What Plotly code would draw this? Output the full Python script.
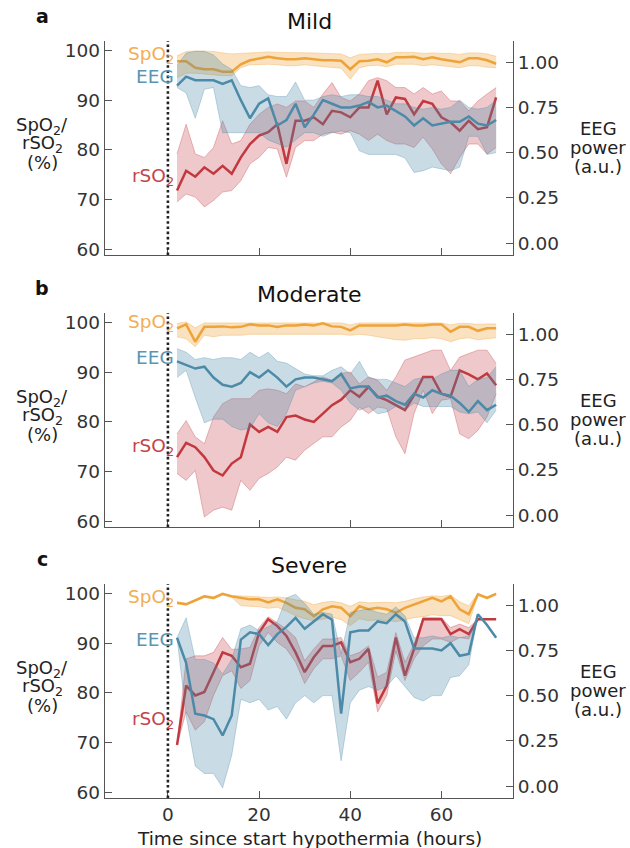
import plotly.graph_objects as go

# ---------------- data ----------------
hours = list(range(2, 73, 2))

# Panel a: Mild
spo2_a_mean = [97.9, 97.9, 96.6, 96.3, 96.3, 95.8, 95.8, 97.3, 98.1, 98.5, 98.8, 98.5, 98.3, 98.3, 98.5, 98.3, 98.1, 98.1,
               98.0, 96.3, 97.9, 98.0, 98.3, 97.7, 98.7, 98.7, 98.8, 98.3, 98.7, 98.3, 98.0, 97.7, 98.5, 98.5, 98.1, 97.4]
spo2_a_upper = [99.0, 99.9, 100.0, 100.0, 99.9, 99.6, 99.4, 99.5, 99.6, 99.8, 99.8, 99.7, 99.7, 99.6, 99.6, 99.6, 99.5, 99.5,
                99.4, 98.6, 99.3, 99.4, 99.5, 99.4, 99.7, 99.7, 99.7, 99.5, 99.6, 99.5, 99.5, 99.3, 99.6, 99.6, 99.4, 98.9]
spo2_a_lower = [94.6, 95.5, 95.5, 95.3, 95.2, 95.0, 95.0, 96.6, 97.2, 97.3, 97.3, 97.2, 97.0, 97.0, 97.2, 97.0, 96.8, 96.7,
                96.5, 94.3, 96.6, 97.0, 97.1, 96.8, 97.3, 97.3, 97.3, 97.0, 97.2, 97.0, 96.8, 96.6, 97.0, 97.0, 96.7, 96.6]
rso2_a_mean = [71.8, 75.8, 74.6, 76.5, 75.2, 76.8, 75.2, 78.5, 81.2, 82.9, 83.6, 85.2, 77.2, 85.9, 85.9, 86.6, 85.2, 87.9,
               87.6, 86.6, 88.6, 88.6, 94.0, 87.2, 90.6, 90.3, 87.2, 89.9, 89.3, 86.6, 85.6, 83.9, 85.9, 84.2, 84.6, 90.6]
rso2_a_upper = [79.2, 85.2, 79.2, 78.5, 80.5, 85.9, 81.2, 81.9, 85.2, 87.2, 88.6, 89.3, 88.6, 89.9, 89.9, 88.6, 91.3, 93.6,
                90.6, 89.9, 91.3, 94.0, 94.6, 94.0, 92.6, 92.6, 91.3, 92.6, 91.3, 91.9, 89.9, 89.9, 87.9, 89.9, 91.3, 92.6]
rso2_a_lower = [69.5, 71.1, 70.5, 68.5, 69.8, 71.5, 71.8, 73.8, 77.2, 78.5, 80.5, 80.2, 74.5, 80.5, 81.9, 81.9, 83.2, 83.6,
                83.2, 83.9, 83.2, 81.9, 83.2, 81.9, 81.2, 81.2, 80.5, 82.6, 80.2, 77.2, 75.2, 78.5, 81.2, 81.2, 79.2, 80.5]
eeg_a_mean = [0.87, 0.92, 0.90, 0.90, 0.90, 0.88, 0.90, 0.79, 0.69, 0.77, 0.80, 0.65, 0.68, 0.77, 0.64, 0.71, 0.79, 0.77,
              0.75, 0.75, 0.76, 0.78, 0.75, 0.76, 0.73, 0.70, 0.65, 0.69, 0.65, 0.66, 0.67, 0.67, 0.70, 0.66, 0.65, 0.68]
eeg_a_upper = [0.98, 1.05, 1.06, 1.06, 1.04, 0.99, 0.96, 0.87, 0.86, 0.87, 0.82, 0.81, 0.81, 0.89, 0.79, 0.79, 0.81, 0.82,
               0.81, 0.82, 0.82, 0.81, 0.81, 0.79, 0.77, 0.77, 0.75, 0.74, 0.75, 0.74, 0.75, 0.79, 0.75, 0.74, 0.75, 0.79]
eeg_a_lower = [0.86, 0.83, 0.69, 0.85, 0.86, 0.61, 0.61, 0.61, 0.61, 0.61, 0.57, 0.55, 0.53, 0.57, 0.61, 0.61, 0.59, 0.61,
               0.62, 0.61, 0.51, 0.49, 0.49, 0.49, 0.49, 0.47, 0.39, 0.40, 0.42, 0.41, 0.40, 0.42, 0.59, 0.59, 0.49, 0.50]

# Panel b: Moderate
spo2_b_mean = [98.9, 99.7, 96.2, 99.2, 99.2, 99.3, 99.1, 99.2, 99.7, 99.5, 99.5, 99.2, 99.5, 99.5, 99.7, 99.5, 99.9, 99.3,
               99.2, 98.5, 99.5, 99.5, 99.5, 99.5, 99.5, 99.7, 99.5, 99.5, 99.7, 99.7, 98.2, 99.2, 99.2, 98.4, 98.9, 98.9]
spo2_b_upper = [99.9, 100.2, 99.0, 100.0, 100.0, 100.0, 100.0, 100.0, 100.1, 100.0, 100.0, 100.0, 100.0, 100.0, 100.0,
                100.0, 100.1, 100.0, 100.0, 99.6, 100.0, 100.0, 100.0, 100.0, 100.0, 100.1, 100.0, 100.0, 100.0, 100.0,
                99.6, 99.9, 99.9, 99.7, 99.8, 99.8]
spo2_b_lower = [97.2, 96.8, 95.2, 97.5, 97.2, 97.5, 97.5, 97.5, 97.7, 97.7, 97.7, 97.7, 97.8, 97.8, 97.8, 97.8, 97.8, 97.7,
                97.7, 97.5, 97.7, 97.5, 97.2, 96.8, 96.6, 96.5, 96.8, 96.8, 97.0, 96.8, 96.2, 96.8, 97.0, 96.6, 96.8, 97.0]
rso2_b_mean = [72.9, 75.8, 74.9, 72.9, 70.2, 69.2, 71.6, 72.9, 79.5, 78.0, 79.0, 78.0, 81.0, 81.3, 80.5, 80.0, 81.7, 83.4,
               84.5, 86.4, 85.1, 87.1, 85.1, 84.4, 83.4, 82.4, 85.4, 89.1, 89.1, 85.7, 85.1, 90.4, 89.6, 88.6, 89.8, 87.4]
rso2_b_upper = [77.6, 80.3, 77.0, 75.6, 81.0, 83.7, 84.7, 84.7, 84.7, 86.4, 86.7, 86.4, 85.7, 87.7, 87.1, 88.1, 89.1, 88.4,
                89.8, 90.1, 87.7, 89.1, 88.4, 86.4, 89.1, 92.5, 93.1, 93.8, 94.5, 94.5, 90.4, 93.1, 93.8, 94.5, 94.5, 91.8]
rso2_b_lower = [69.6, 68.2, 70.2, 60.8, 62.2, 62.8, 62.2, 68.2, 66.2, 68.6, 69.6, 70.9, 72.9, 72.3, 74.3, 75.6, 77.0, 77.0,
                79.0, 80.3, 83.0, 81.7, 83.0, 82.7, 77.0, 73.6, 81.7, 86.4, 81.7, 84.4, 84.7, 77.6, 76.6, 78.3, 81.0, 85.7]
eeg_b_mean = [0.85, 0.83, 0.81, 0.82, 0.76, 0.72, 0.71, 0.73, 0.79, 0.76, 0.80, 0.76, 0.71, 0.75, 0.76, 0.76, 0.75, 0.74,
              0.78, 0.70, 0.71, 0.71, 0.65, 0.66, 0.63, 0.61, 0.67, 0.65, 0.69, 0.67, 0.66, 0.62, 0.57, 0.63, 0.58, 0.61]
eeg_b_upper = [0.92, 0.90, 0.86, 0.87, 0.86, 0.87, 0.87, 0.86, 0.90, 0.87, 0.90, 0.85, 0.84, 0.81, 0.78, 0.77, 0.77, 0.80,
               0.82, 0.78, 0.85, 0.76, 0.75, 0.75, 0.73, 0.71, 0.75, 0.76, 0.75, 0.78, 0.80, 0.80, 0.71, 0.75, 0.76, 0.82]
eeg_b_lower = [0.76, 0.80, 0.65, 0.51, 0.53, 0.53, 0.49, 0.47, 0.48, 0.56, 0.51, 0.49, 0.56, 0.69, 0.71, 0.73, 0.74, 0.73,
               0.69, 0.62, 0.58, 0.60, 0.56, 0.57, 0.60, 0.58, 0.62, 0.60, 0.60, 0.60, 0.60, 0.57, 0.56, 0.57, 0.51, 0.58]

# Panel c: Severe
spo2_c_mean = [98.2, 97.9, 98.7, 99.5, 99.2, 100.0, 99.5, 99.2, 98.9, 98.9, 98.3, 98.9, 98.2, 97.2, 96.9, 95.5, 96.9, 97.5,
               97.2, 95.5, 97.5, 96.9, 97.2, 96.9, 96.2, 97.2, 97.9, 98.5, 99.2, 98.5, 99.5, 96.9, 95.9, 99.9, 99.2, 100.0]
spo2_c_upper = [98.4, 98.1, 98.9, 99.7, 99.4, 100.1, 99.7, 99.6, 99.5, 99.5, 99.3, 99.4, 99.2, 98.8, 98.5, 97.8, 98.3, 98.5,
                98.2, 97.5, 98.4, 98.2, 98.3, 98.3, 98.2, 98.5, 99.0, 99.4, 99.6, 99.5, 99.8, 98.4, 97.6, 100.1, 99.4, 100.2]
spo2_c_lower = [98.0, 97.7, 98.5, 99.3, 99.0, 99.8, 99.3, 97.6, 97.5, 97.4, 97.1, 97.3, 96.5, 95.6, 95.0, 94.6, 94.9, 95.3,
                94.8, 93.6, 95.0, 94.6, 94.8, 94.6, 94.4, 94.8, 95.2, 95.4, 95.8, 95.6, 95.6, 94.8, 94.0, 99.7, 99.0, 99.8]
rso2_c_mean = [69.5, 81.5, 79.5, 80.2, 84.2, 88.2, 87.5, 85.2, 85.9, 92.2, 94.9, 93.5, 91.5, 88.2, 84.2, 87.2, 89.5, 89.5,
               90.2, 86.2, 86.9, 88.9, 77.9, 81.5, 91.2, 83.5, 88.9, 94.9, 94.9, 94.9, 91.9, 92.9, 91.9, 94.9, 94.9, 94.9]
rso2_c_upper = [69.5, 86.9, 87.5, 87.5, 88.2, 91.2, 88.8, 88.9, 89.2, 93.2, 95.4, 94.2, 92.9, 91.2, 86.5, 88.9, 90.9, 90.9,
                91.2, 87.5, 88.2, 89.5, 83.2, 84.2, 92.2, 86.2, 89.9, 95.3, 95.2, 95.2, 93.2, 93.9, 93.2, 94.9, 94.9, 94.9]
rso2_c_lower = [69.5, 76.2, 72.5, 74.2, 79.5, 83.5, 84.5, 80.9, 82.5, 89.5, 92.2, 90.2, 88.9, 86.2, 81.9, 84.9, 86.9, 86.9,
                87.5, 82.5, 84.2, 86.2, 76.2, 79.5, 88.5, 82.5, 86.9, 89.5, 90.9, 90.9, 90.2, 91.2, 90.9, 94.9, 94.9, 94.9]
eeg_c_mean = [0.82, 0.68, 0.40, 0.39, 0.37, 0.28, 0.39, 0.81, 0.85, 0.84, 0.78, 0.84, 0.88, 0.93, 0.87, 0.91, 0.95, 0.92,
              0.40, 0.85, 0.86, 0.86, 0.91, 0.90, 0.95, 0.91, 0.76, 0.76, 0.76, 0.75, 0.79, 0.72, 0.73, 0.95, 0.89, 0.82]
eeg_c_upper = [0.82, 0.93, 0.70, 0.70, 0.68, 0.62, 0.70, 0.87, 0.89, 0.86, 0.88, 0.91, 1.04, 1.06, 1.01, 0.95, 0.96, 0.95,
               0.73, 0.96, 0.97, 0.98, 0.96, 0.95, 0.99, 0.94, 0.82, 0.82, 0.83, 0.82, 0.83, 0.82, 0.83, 0.95, 0.89, 0.82]
eeg_c_lower = [0.82, 0.39, 0.11, 0.07, 0.07, -0.01, 0.17, 0.48, 0.46, 0.48, 0.42, 0.44, 0.37, 0.46, 0.50, 0.46, 0.50, 0.50,
               0.14, 0.46, 0.53, 0.55, 0.53, 0.55, 0.61, 0.55, 0.49, 0.47, 0.50, 0.50, 0.60, 0.61, 0.67, 0.95, 0.89, 0.82]

panel_titles = ["Mild", "Moderate", "Severe"]
panel_letters = ["a", "b", "c"]
left_ticks = [60, 70, 80, 90, 100]
right_ticks = [0.0, 0.25, 0.5, 0.75, 1.0]
x_ticks = [0, 20, 40, 60]
x_title = "Time since start hypothermia (hours)"
left_title_lines = ["SpO<sub>2</sub>/", "rSO<sub>2</sub>", "(%)"]
right_title_lines = ["EEG", "power", "(a.u.)"]

# label positions (left-axis units) for inline series labels
label_y = [
    {"spo2": 99.2, "eeg": 94.8, "rso2": 74.5},
    {"spo2": 100.0, "eeg": 93.1, "rso2": 75.0},
    {"spo2": 99.2, "eeg": 90.7, "rso2": 74.5},
]

panels = [
    dict(spo2=(spo2_a_mean, spo2_a_upper, spo2_a_lower), rso2=(rso2_a_mean, rso2_a_upper, rso2_a_lower),
         eeg=(eeg_a_mean, eeg_a_upper, eeg_a_lower)),
    dict(spo2=(spo2_b_mean, spo2_b_upper, spo2_b_lower), rso2=(rso2_b_mean, rso2_b_upper, rso2_b_lower),
         eeg=(eeg_b_mean, eeg_b_upper, eeg_b_lower)),
    dict(spo2=(spo2_c_mean, spo2_c_upper, spo2_c_lower), rso2=(rso2_c_mean, rso2_c_upper, rso2_c_lower),
         eeg=(eeg_c_mean, eeg_c_upper, eeg_c_lower)),
]

# ---------------- styling ----------------
FONT = "DejaVu Sans"
ORANGE = (238, 163, 56)
BLUE = (76, 138, 168)
RED = (193, 57, 63)
TXT_ORANGE = "#F1AE55"
TXT_BLUE = "#5A95B3"
TXT_RED = "#C4444B"
AX = "#555555"


def rgba(c, a):
    return f"rgba({c[0]},{c[1]},{c[2]},{a})"


W, H = 630, 848
ML, MR, MT, MB = 105, 117, 41, 50
plot_h = H - MT - MB
plot_w = W - ML - MR
panel_px = [(41, 255), (313, 527), (584, 798)]
domains = [[(H - MB - b) / plot_h, (H - MB - t) / plot_h] for (t, b) in panel_px]
LEFT_RANGE = [58.8, 102.0]
RIGHT_RANGE = [-0.066, 1.117]
X_RANGE = [-13.8, 75.7]


def py(px):
    return (H - MB - px) / plot_h


def pxx(px):
    return (px - ML) / plot_w


fig = go.Figure()


def add_band(xa, ya, mean, upper, lower, col, fill_a, edge_a):
    fig.add_trace(go.Scatter(x=hours, y=lower, xaxis=xa, yaxis=ya, mode="lines",
                             line=dict(color=rgba(col, edge_a), width=1), hoverinfo="skip", showlegend=False))
    fig.add_trace(go.Scatter(x=hours, y=upper, xaxis=xa, yaxis=ya, mode="lines", fill="tonexty",
                             fillcolor=rgba(col, fill_a),
                             line=dict(color=rgba(col, edge_a), width=1), hoverinfo="skip", showlegend=False))


for i, p in enumerate(panels):
    n = i + 1
    xa = "x" if n == 1 else f"x{n}"
    yl = "y" if n == 1 else f"y{2 * n - 1}"
    yr = f"y{2 * n}"
    # left axis series
    add_band(xa, yl, *p["spo2"], ORANGE, 0.32, 0.35)
    fig.add_trace(go.Scatter(x=hours, y=p["spo2"][0], xaxis=xa, yaxis=yl, mode="lines",
                             line=dict(color=rgba(ORANGE, 1), width=2.5), showlegend=False))
    add_band(xa, yl, *p["rso2"], RED, 0.28, 0.32)
    fig.add_trace(go.Scatter(x=hours, y=p["rso2"][0], xaxis=xa, yaxis=yl, mode="lines",
                             line=dict(color=rgba(RED, 1), width=2.5), showlegend=False))
    # right axis series
    add_band(xa, yr, *p["eeg"], BLUE, 0.30, 0.32)
    fig.add_trace(go.Scatter(x=hours, y=p["eeg"][0], xaxis=xa, yaxis=yr, mode="lines",
                             line=dict(color=rgba(BLUE, 1), width=2.5), showlegend=False))

    xkey = "xaxis" if n == 1 else f"xaxis{n}"
    ylkey = "yaxis" if n == 1 else f"yaxis{2 * n - 1}"
    yrkey = f"yaxis{2 * n}"
    fig.update_layout(**{
        xkey: dict(domain=[0, 1], anchor=yl, range=X_RANGE, tickvals=x_ticks,
                   showticklabels=(n == 3), ticks="inside", ticklen=7, tickwidth=1.3, tickcolor=AX,
                   showline=True, linecolor=AX, linewidth=1.3, showgrid=False, zeroline=False,
                   tickfont=dict(family=FONT, size=18.5, color="#333333")),
        ylkey: dict(domain=domains[i], anchor=xa, range=LEFT_RANGE, tickvals=left_ticks,
                    ticks="inside", ticklen=7, tickwidth=1.3, tickcolor=AX,
                    showline=True, linecolor=AX, linewidth=1.3, showgrid=False, zeroline=False,
                    tickfont=dict(family=FONT, size=18.5, color="#333333")),
        yrkey: dict(overlaying=yl, side="right", anchor=xa, range=RIGHT_RANGE, tickvals=right_ticks,
                    tickformat=".2f", ticks="inside", ticklen=7, tickwidth=1.3, tickcolor=AX,
                    showline=True, linecolor=AX, linewidth=1.3, showgrid=False, zeroline=False,
                    tickfont=dict(family=FONT, size=18.5, color="#333333")),
    })

    # dotted vertical line at hypothermia start
    fig.add_shape(type="line", xref=xa, x0=0, x1=0, yref=f"{yl} domain", y0=0, y1=1,
                  line=dict(color="#222222", width=2.6, dash="2.6px,2.6px"), layer="above")

    # inline series labels
    for key, txt, col in (("spo2", "SpO<sub>2</sub>", TXT_ORANGE), ("eeg", "EEG", TXT_BLUE),
                          ("rso2", "rSO<sub>2</sub>", TXT_RED)):
        fig.add_annotation(x=1.8, y=label_y[i][key], xref=xa, yref=yl, text=txt, showarrow=False,
                           xanchor="right", yanchor="middle", font=dict(family=FONT, size=18.5, color=col))

    top_px, bot_px = panel_px[i]
    # title
    fig.add_annotation(x=0.5, xref="paper", y=py(top_px - 19), yref="paper",
                       text=panel_titles[i], showarrow=False, xanchor="center", yanchor="middle",
                       font=dict(family=FONT, size=22, color="#111111"))
    # panel letter
    fig.add_annotation(x=pxx(42), xref="paper", y=py(top_px - 25), yref="paper",
                       text=f"<b>{panel_letters[i]}</b>", showarrow=False,
                       xanchor="center", yanchor="middle", font=dict(family=FONT, size=19, color="#111111"))
    # axis titles, one annotation per line for tight spacing
    for k, (line_txt, off) in enumerate(zip(left_title_lines, [85, 103, 121])):
        fig.add_annotation(x=pxx(42), xref="paper", y=py(top_px + off), yref="paper",
                           text=line_txt, showarrow=False, xanchor="center", yanchor="middle",
                           font=dict(family=FONT, size=18, color="#222222"))
    for k, (line_txt, off) in enumerate(zip(right_title_lines, [87, 106, 125])):
        fig.add_annotation(x=pxx(598), xref="paper", y=py(top_px + off), yref="paper",
                           text=line_txt, showarrow=False, xanchor="center", yanchor="middle",
                           font=dict(family=FONT, size=18, color="#222222"))

fig.add_annotation(x=0.5, xref="paper", y=py(838), yref="paper", text=x_title,
                   showarrow=False, xanchor="center", yanchor="middle",
                   font=dict(family=FONT, size=18.5, color="#222222"))

fig.update_layout(width=W, height=H, margin=dict(l=ML, r=MR, t=MT, b=MB),
                  paper_bgcolor="white", plot_bgcolor="white", showlegend=False,
                  font=dict(family=FONT, size=18.5, color="#333333"))

fig.write_html("out.html", config={"displayModeBar": False})
